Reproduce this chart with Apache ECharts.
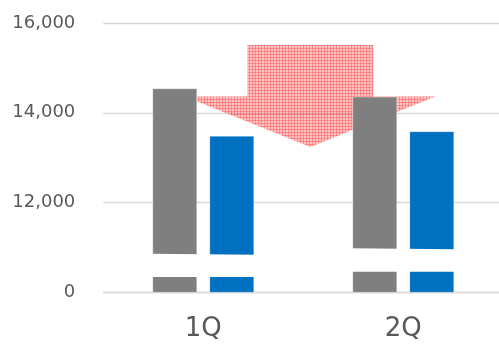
<!DOCTYPE html>
<html>
<head>
<meta charset="utf-8">
<script src="https://cdn.jsdelivr.net/npm/echarts@6/dist/echarts.min.js"></script>
<style>
  html, body { margin: 0; padding: 0; background: #ffffff; }
  #chart { width: 499px; height: 347px; }
</style>
</head>
<body>
<div id="chart"></div>
<script>
// Quarterly figures (two series per quarter)
const categories = ['1Q', '2Q'];
const greyValues = [14545, 14360];
const blueValues = [13490, 13590];

// Scale break drawn across each quarter's bars (value units)
const breakLow = [10340, 10460];
const breakHigh = [10845, 10970];

// Value axis: the baseline 10,000 stands for zero below the break
const axisMin = 10000;
const axisMax = 16000;
const axisStep = 2000;
const baselineLabel = '0';

// Downward arrow: anchored to 1Q, offsets in category-band units
const arrowCategory = 0;
const arrowCenter = 0.535;
const arrowShaftHalf = 0.315;
const arrowWingHalf = 0.625;
const arrowLeftCut = -0.03;      // left wing hidden behind the 1Q grey bar
const arrowTop = 15510;
const arrowWing = 14360;
const arrowTip = 13240;

const BAR_W = 45;
const BAR_GAP = 12;

function hatchPattern() {
  const c = document.createElement('canvas');
  c.width = 3; c.height = 3;
  const g = c.getContext('2d');
  g.fillStyle = 'rgba(255,0,0,0.24)';
  g.fillRect(1, 1, 2, 2);
  g.fillStyle = 'rgba(255,0,0,0.44)';
  g.fillRect(1, 0, 2, 1);
  g.fillRect(0, 1, 1, 2);
  g.fillStyle = 'rgba(255,0,0,0.56)';
  g.fillRect(0, 0, 1, 1);
  return c;
}
const hatch = hatchPattern();

const chart = echarts.init(document.getElementById('chart'), null, { renderer: 'canvas' });

const option = {
  animation: false,
  backgroundColor: '#ffffff',
  grid: { left: 103.3, top: 23, width: 400, height: 269.3, containLabel: false, outerBoundsMode: 'none' },
  xAxis: {
    type: 'category',
    data: categories,
    axisTick: { show: false },
    axisLine: { lineStyle: { color: '#d9d9d9', width: 1.3 } },
    axisLabel: { color: '#595959', fontSize: 26, fontFamily: 'DejaVu Sans', margin: 24 }
  },
  yAxis: {
    type: 'value',
    min: axisMin,
    max: axisMax,
    interval: axisStep,
    axisLine: { show: false },
    axisTick: { show: false },
    splitLine: { lineStyle: { color: '#d9d9d9', width: 1.3 } },
    axisLabel: {
      color: '#595959', fontSize: 18, fontFamily: 'DejaVu Sans', margin: 28,
      padding: [0, 0, 4, 0],
      formatter: v => v === axisMin ? baselineLabel : v.toLocaleString('en-US')
    }
  },
  series: [
    {
      type: 'bar',
      data: greyValues,
      barWidth: BAR_W,
      barGap: (BAR_GAP / BAR_W * 100).toFixed(1) + '%',
      itemStyle: { color: '#7f7f7f', borderColor: 'rgba(255,255,255,0.35)', borderWidth: 1 },
      clip: true,
      z: 5
    },
    {
      type: 'bar',
      data: blueValues,
      barWidth: BAR_W,
      itemStyle: { color: '#0070c0', borderColor: 'rgba(255,255,255,0.35)', borderWidth: 1 },
      clip: true,
      z: 2
    },
    {
      // white break band across both bars of a quarter
      type: 'custom',
      data: categories.map((c, i) => [i, breakLow[i], breakHigh[i]]),
      encode: { x: 0, y: [1, 2] },
      z: 6,
      silent: true,
      renderItem: (params, api) => {
        const lo = api.coord([api.value(0), api.value(1)]);
        const hi = api.coord([api.value(0), api.value(2)]);
        const half = BAR_W + BAR_GAP / 2 + 3;
        return {
          type: 'polygon',
          shape: {
            points: [
              [lo[0] - half, hi[1] - 0.5],
              [lo[0] + half, hi[1] + 0.5],
              [lo[0] + half, lo[1]],
              [lo[0] - half, lo[1]]
            ]
          },
          style: { fill: '#ffffff' }
        };
      }
    },
    {
      // hatched downward arrow
      type: 'custom',
      data: [[arrowCategory, arrowTop, arrowWing, arrowTip]],
      encode: { x: 0, y: [1, 2, 3] },
      z: 4,
      silent: true,
      renderItem: (params, api) => {
        const band = api.size([1, 0])[0];
        const base = api.coord([api.value(0), api.value(1)]);
        const yTop = base[1];
        const yWing = api.coord([api.value(0), api.value(2)])[1];
        const yTip = api.coord([api.value(0), api.value(3)])[1];
        const cx = base[0] + arrowCenter * band;
        const sh = arrowShaftHalf * band;
        const wh = arrowWingHalf * band;
        const cutX = base[0] + arrowLeftCut * band;
        const leftTipX = cx - wh;
        const cutY = yWing + (cutX - leftTipX) / (cx - leftTipX) * (yTip - yWing);
        return {
          type: 'polygon',
          shape: {
            points: [
              [cx - sh, yTop],
              [cx + sh, yTop],
              [cx + sh, yWing],
              [cx + wh, yWing],
              [cx, yTip],
              [cutX, cutY],
              [cutX, yWing],
              [cx - sh, yWing]
            ]
          },
          style: { fill: { image: hatch, repeat: 'repeat' } }
        };
      }
    }
  ]
};

chart.setOption(option);
</script>
</body>
</html>
